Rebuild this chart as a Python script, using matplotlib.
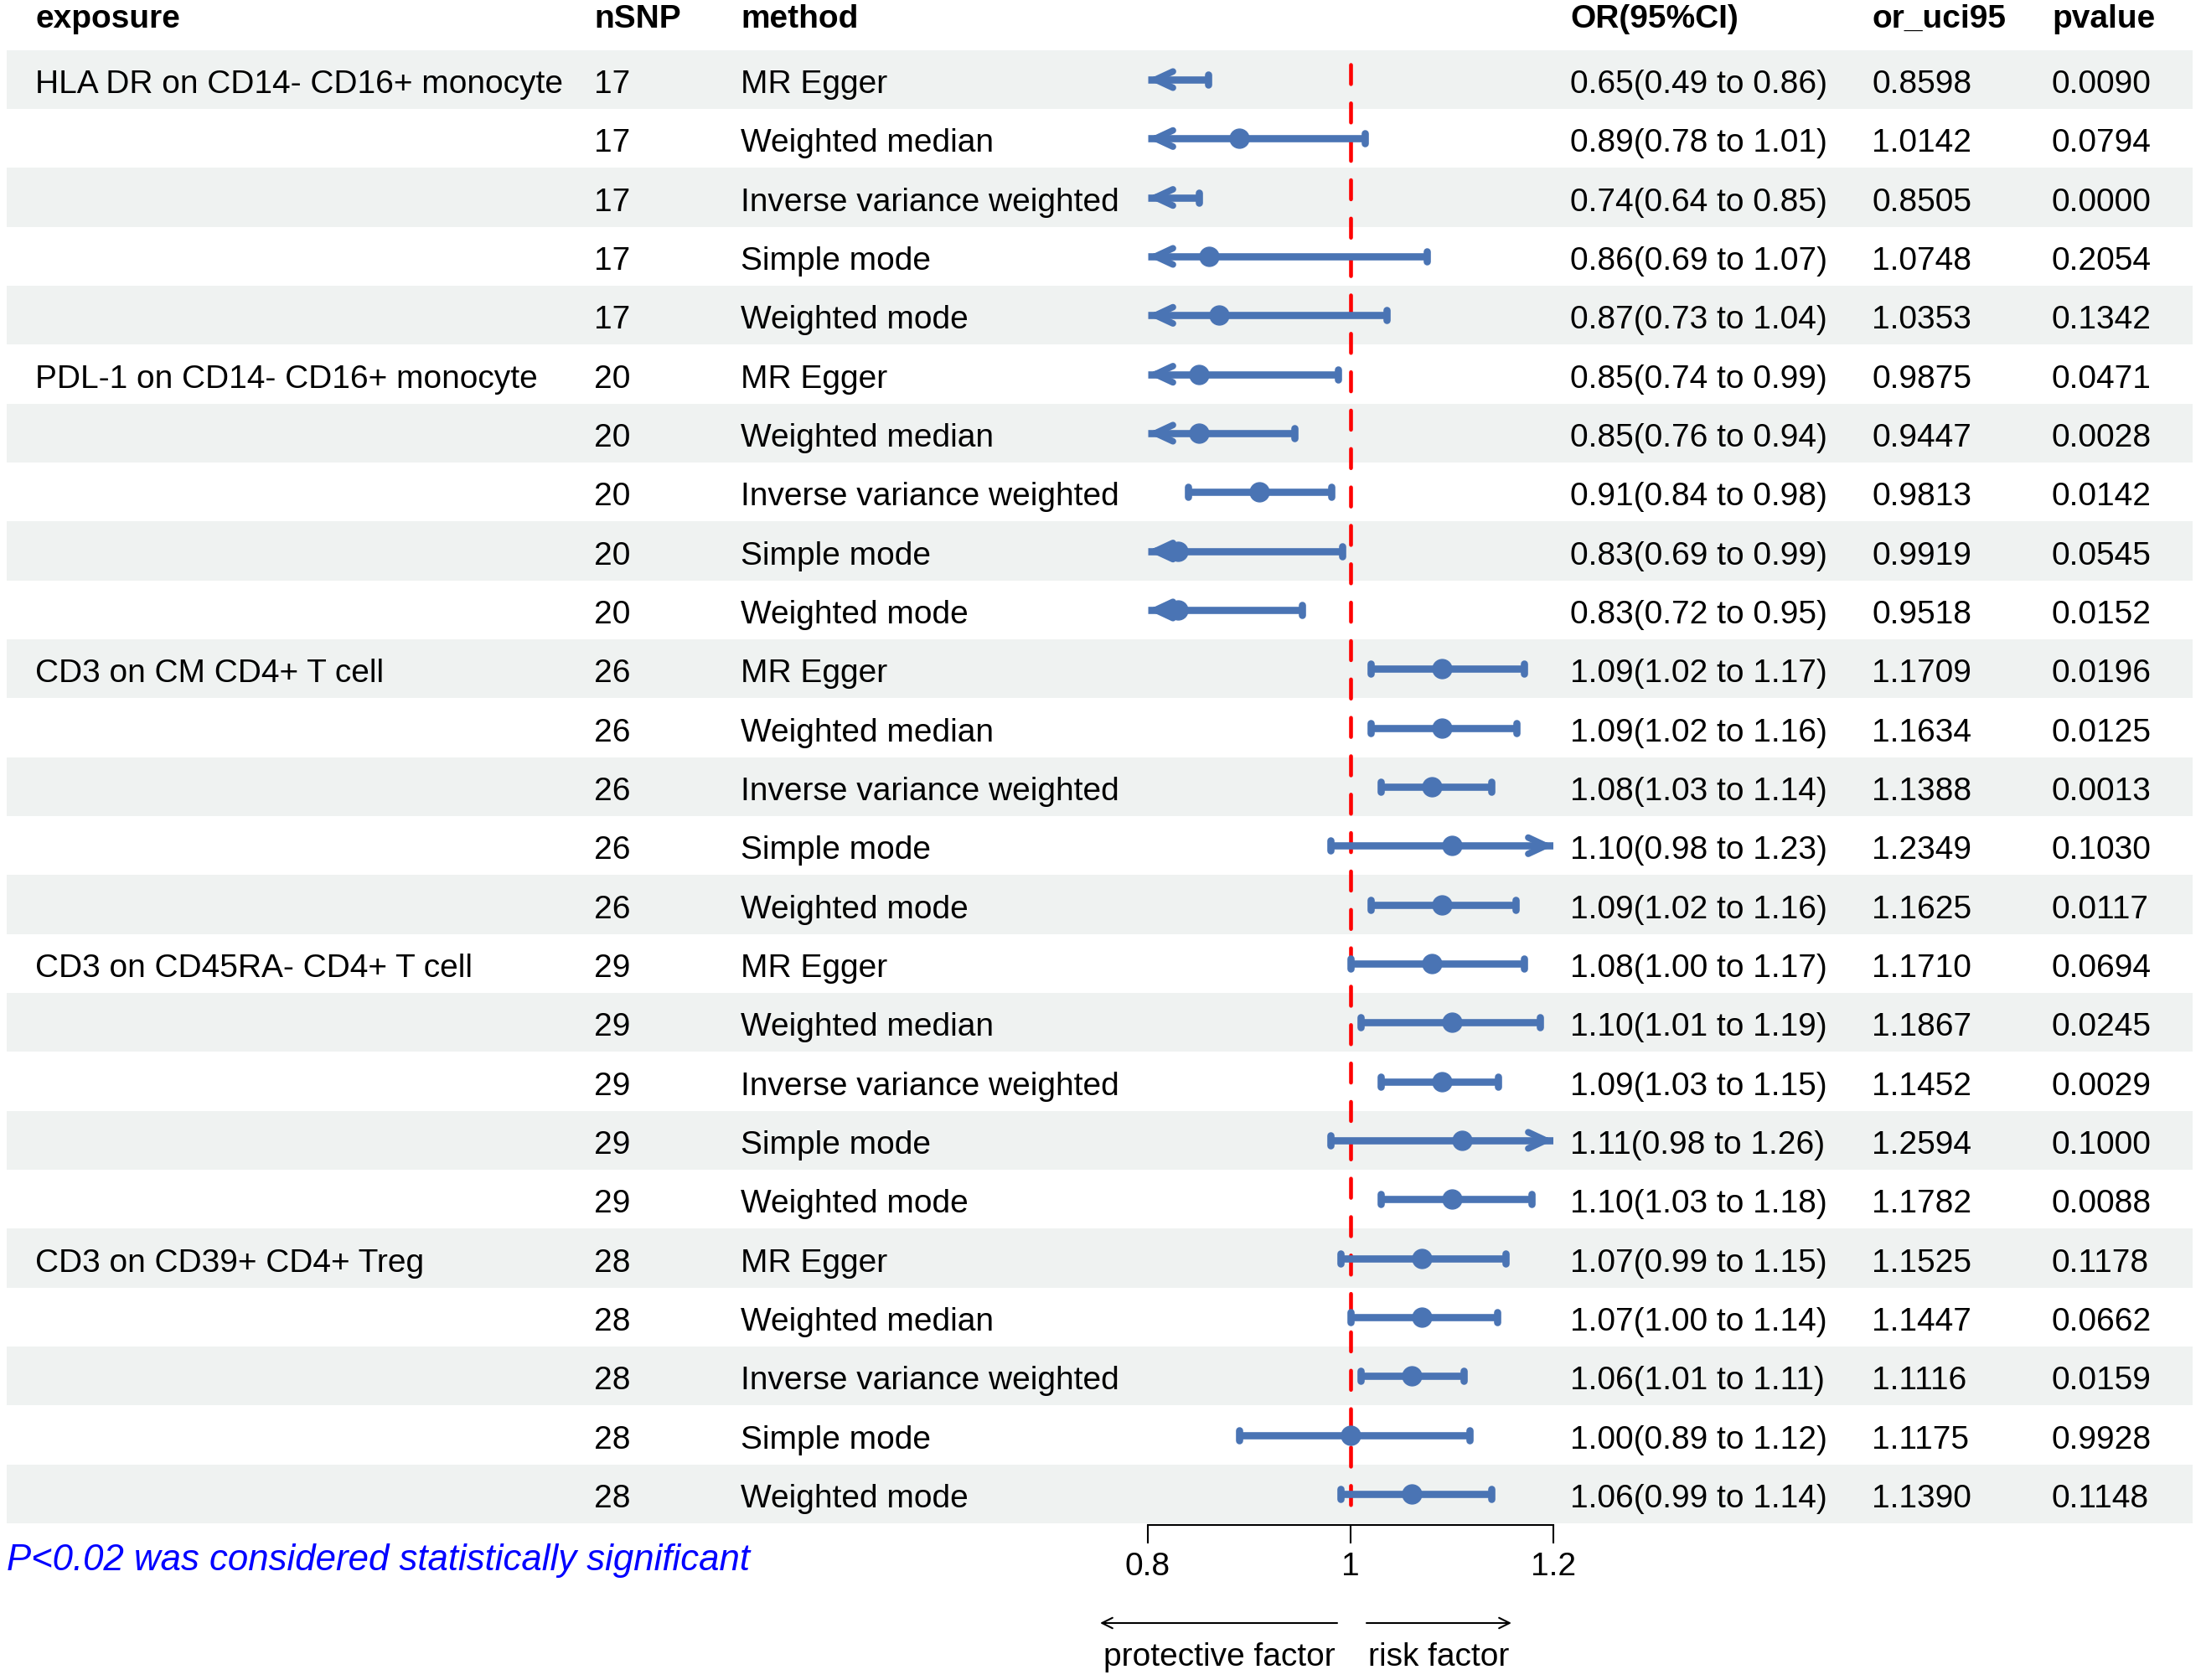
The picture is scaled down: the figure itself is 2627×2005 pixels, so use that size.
import matplotlib
matplotlib.use("Agg")
import matplotlib.pyplot as plt
import numpy as np

plt.rcParams['font.family'] = ['Liberation Sans', 'DejaVu Sans']

# ---------------- data ----------------
exposures = ["HLA DR on CD14- CD16+ monocyte", "PDL-1 on CD14- CD16+ monocyte",
             "CD3 on CM CD4+ T cell", "CD3 on CD45RA- CD4+ T cell",
             "CD3 on CD39+ CD4+ Treg"]
nsnp_groups = [17, 20, 26, 29, 28]
methods = ["MR Egger", "Weighted median", "Inverse variance weighted",
           "Simple mode", "Weighted mode"]

or_vals = [0.65, 0.89, 0.74, 0.86, 0.87,
           0.85, 0.85, 0.91, 0.83, 0.83,
           1.09, 1.09, 1.08, 1.10, 1.09,
           1.08, 1.10, 1.09, 1.11, 1.10,
           1.07, 1.07, 1.06, 1.00, 1.06]
or_lci = [0.49, 0.78, 0.64, 0.69, 0.73,
          0.74, 0.76, 0.84, 0.69, 0.72,
          1.02, 1.02, 1.03, 0.98, 1.02,
          1.00, 1.01, 1.03, 0.98, 1.03,
          0.99, 1.00, 1.01, 0.89, 0.99]
or_uci95 = [0.8598, 1.0142, 0.8505, 1.0748, 1.0353,
            0.9875, 0.9447, 0.9813, 0.9919, 0.9518,
            1.1709, 1.1634, 1.1388, 1.2349, 1.1625,
            1.1710, 1.1867, 1.1452, 1.2594, 1.1782,
            1.1525, 1.1447, 1.1116, 1.1175, 1.1390]
pvalues = [0.0090, 0.0794, 0.0000, 0.2054, 0.1342,
           0.0471, 0.0028, 0.0142, 0.0545, 0.0152,
           0.0196, 0.0125, 0.0013, 0.1030, 0.0117,
           0.0694, 0.0245, 0.0029, 0.1000, 0.0088,
           0.1178, 0.0662, 0.0159, 0.9928, 0.1148]

x_ticks = [0.8, 1.0, 1.2]
x_tick_labels = ["0.8", "1", "1.2"]
headers = ["exposure", "nSNP", "method", "OR(95%CI)", "or_uci95", "pvalue"]
footnote = "P<0.02 was considered statistically significant"

# ---------------- style / layout ----------------
W, H = 2627, 2005
FS = 28
BLUE = '#4A74B4'
BAND = '#EFF2F1'
x_lo, x_hi = 0.8, 1.2
px_lo, px_hi = 1370, 1854
row0, dy = 95.0, 70.33
axis_y = 1820
col_x = [42, 709, 884, 1874, 2234, 2449]

fig = plt.figure(figsize=(W / 100, H / 100), dpi=100)
ax0 = fig.add_axes([0, 0, 1, 1])
ax0.set_xlim(0, W)
ax0.set_ylim(H, 0)
ax0.axis('off')

n = len(or_vals)
ycs = row0 + dy * np.arange(n)

# bands
for i, yc in enumerate(ycs):
    if i % 2 == 0:
        ax0.add_patch(plt.Rectangle((8, yc - dy / 2), 2609, dy, color=BAND, lw=0, zorder=0))

# headers
for x, h in zip(col_x, headers):
    ax0.text(x, 33, h, fontsize=FS, fontweight='bold', ha='left', va='baseline')

# table text
for i, yc in enumerate(ycs):
    g, m = divmod(i, len(methods))
    base = yc + 16
    if m == 0:
        ax0.text(col_x[0], base, exposures[g], fontsize=FS, va='baseline')
    ax0.text(col_x[1], base, str(nsnp_groups[g]), fontsize=FS, va='baseline')
    ax0.text(col_x[2], base, methods[m], fontsize=FS, va='baseline')
    ax0.text(col_x[3], base, f"{or_vals[i]:.2f}({or_lci[i]:.2f} to {or_uci95[i]:.2f})",
             fontsize=FS, va='baseline')
    ax0.text(col_x[4], base, f"{or_uci95[i]:.4f}", fontsize=FS, va='baseline')
    ax0.text(col_x[5], base, f"{pvalues[i]:.4f}", fontsize=FS, va='baseline')

# footnote
ax0.text(8, 1874, footnote, fontsize=31.5, color='#0000FF', style='italic', va='baseline')

# bottom arrows and labels
arr = dict(arrowstyle='->,head_length=0.9,head_width=0.45', lw=1.5, color='black',
           shrinkA=0, shrinkB=0)
ax0.annotate('', xy=(1313, 1937), xytext=(1596, 1937), arrowprops=arr)
ax0.annotate('', xy=(1804, 1937), xytext=(1631, 1937), arrowprops=arr)
ax0.text(1455, 1988, "protective factor", fontsize=FS, ha='center', va='baseline')
ax0.text(1717, 1988, "risk factor", fontsize=FS, ha='center', va='baseline')

# forest axes
axf = fig.add_axes([px_lo / W, (H - axis_y) / H, (px_hi - px_lo) / W, axis_y / H])
axf.set_xlim(x_lo, x_hi)
axf.set_ylim(axis_y, 0)
axf.patch.set_alpha(0)
for s in ['top', 'left', 'right']:
    axf.spines[s].set_visible(False)
axf.spines['bottom'].set_linewidth(1.5)
axf.set_yticks([])
axf.set_xticks(x_ticks)
axf.set_xticklabels(x_tick_labels)
axf.tick_params(axis='x', length=16, width=1.5, labelsize=FS, pad=7, direction='out')

# reference line
axf.vlines(1.0, ycs[0] - 18, ycs[-1] + dy / 2, colors='#FF0000', lw=3.3,
           linestyles=(0, (5, 5)), zorder=3, capstyle='round')

LW = 6.2
head = dict(arrowstyle='->,head_length=1.5,head_width=0.7', lw=LW * 0.9, color=BLUE,
            shrinkA=0, shrinkB=0)
for i, yc in enumerate(ycs):
    lo, hi, est = or_lci[i], or_uci95[i], or_vals[i]
    lo_c, hi_c = max(lo, x_lo), min(hi, x_hi)
    axf.plot([lo_c, hi_c], [yc, yc], color=BLUE, lw=LW, solid_capstyle='butt', zorder=4)
    if lo < x_lo:
        axf.annotate('', xy=(x_lo, yc), xytext=(x_lo + 0.012, yc), arrowprops=head, zorder=4)
    else:
        axf.vlines(lo, yc - 6, yc + 6, colors=BLUE, lw=LW, capstyle='round', zorder=4)
    if hi > x_hi:
        axf.annotate('', xy=(x_hi, yc), xytext=(x_hi - 0.012, yc), arrowprops=head,
                     zorder=4, annotation_clip=False)
    else:
        axf.vlines(hi, yc - 6, yc + 6, colors=BLUE, lw=LW, capstyle='round', zorder=4)
    if x_lo <= est <= x_hi:
        axf.plot([est], [yc], 'o', color=BLUE, ms=16.5, zorder=5)

fig.savefig('out.png', dpi=100)
